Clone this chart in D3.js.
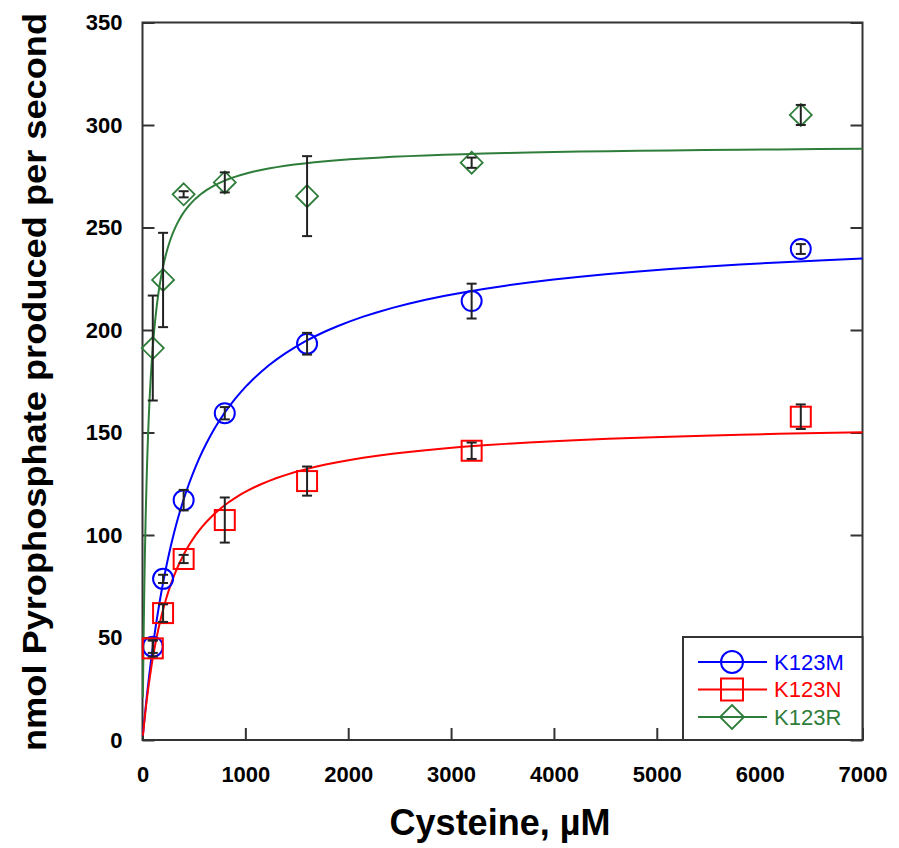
<!DOCTYPE html>
<html>
<head>
<meta charset="utf-8">
<script src="https://cdn.jsdelivr.net/npm/d3@7"></script>
<style>
  html, body { margin: 0; padding: 0; background: #fff; }
  svg { display: block; }
</style>
</head>
<body>
<svg id="chart" width="899" height="848"></svg>
<script>
// Substrate concentrations (µM)
const concentrations = [100, 200, 400, 800, 1600, 3200, 6400];

// Mean rates and error bars per enzyme variant
const k123mRate = [45.5, 78.6, 117, 159.4, 193.3, 214.1, 239.5];
const k123mErr  = [3, 2, 5, 3, 5.3, 8.5, 2.4];
const k123nRate = [44.7, 61.9, 88.3, 107.3, 126.3, 141.1, 157.7];
const k123nErr  = [4, 4.3, 2, 11, 7.1, 4, 6];
const k123rRate = [191.2, 224.4, 266.2, 272, 265.3, 281.6, 304.9];
const k123rErr  = [25.6, 23, 1.5, 4.9, 19.5, 2.5, 4.9];

// Michaelis–Menten fit parameters (Vmax, Km)
const seriesNames = ["K123M", "K123N", "K123R"];
const fitVmax = [250, 156.4, 290.5];
const fitKm   = [452, 292, 51.6];
const seriesColors = ["#0000ff", "#ff0000", "#2f7d3a"];
const seriesShapes = ["circle", "square", "diamond"];

const xTicks = [0, 1000, 2000, 3000, 4000, 5000, 6000, 7000];
const yTicks = [0, 50, 100, 150, 200, 250, 300, 350];

const rates = [k123mRate, k123nRate, k123rRate];
const errs = [k123mErr, k123nErr, k123rErr];

(function draw() {
  const svg = d3.select("#chart");
  const pL = 142.5, pR = 862.5, pT = 22.5, pB = 740;
  const x = d3.scaleLinear().domain([0, 7000]).range([pL, pR]);
  const y = d3.scaleLinear().domain([0, 350]).range([pB, pT]);

  const axisColor = "#333";
  const fontFamily = "Arial, 'Liberation Sans', sans-serif";

  // Axes: ticks point inward
  const gL = svg.append("g").attr("transform", `translate(${pL},0)`)
    .call(d3.axisLeft(y).tickValues(yTicks).tickSizeInner(-12).tickSizeOuter(0).tickPadding(20).tickFormat(d3.format("d")));
  const gR = svg.append("g").attr("transform", `translate(${pR},0)`)
    .call(d3.axisRight(y).tickValues(yTicks).tickSizeInner(-12).tickSizeOuter(0).tickFormat(""));
  const gB = svg.append("g").attr("transform", `translate(0,${pB})`)
    .call(d3.axisBottom(x).tickValues(xTicks).tickSizeInner(-12).tickSizeOuter(0).tickPadding(26).tickFormat(d3.format("d")));

  [gL, gR, gB].forEach(g => {
    g.select(".domain").remove();
    g.selectAll(".tick line").attr("stroke", axisColor).attr("stroke-width", 2);
    g.selectAll(".tick text")
      .attr("fill", "#000")
      .style("font-family", fontFamily)
      .style("font-weight", "bold")
      .style("font-size", "22px");
  });

  // Frame
  svg.append("rect")
    .attr("x", pL).attr("y", pT)
    .attr("width", pR - pL).attr("height", pB - pT)
    .attr("fill", "none").attr("stroke", axisColor).attr("stroke-width", 2);

  // Fitted curves
  const sampleS = d3.range(0, 121).map(i => 4 * Math.pow(7000 / 4, i / 120));
  const line = d3.line().x(d => x(d[0])).y(d => y(d[1]));
  seriesNames.forEach((name, i) => {
    const pts = sampleS.map(s => [s, fitVmax[i] * s / (fitKm[i] + s)]);
    svg.append("path")
      .attr("d", line(pts))
      .attr("fill", "none")
      .attr("stroke", seriesColors[i])
      .attr("stroke-width", 2);
  });

  // Marker shapes
  function marker(g, shape, cx, cy, color, size) {
    const r = size || 10;
    if (shape === "circle") {
      g.append("circle").attr("cx", cx).attr("cy", cy).attr("r", r)
        .attr("fill", "none").attr("stroke", color).attr("stroke-width", 2);
    } else if (shape === "square") {
      g.append("rect").attr("x", cx - r).attr("y", cy - r).attr("width", 2 * r).attr("height", 2 * r)
        .attr("fill", "none").attr("stroke", color).attr("stroke-width", 2);
    } else {
      const d = r + 1;
      g.append("path").attr("d", `M${cx},${cy - d}L${cx + d},${cy}L${cx},${cy + d}L${cx - d},${cy}Z`)
        .attr("fill", "none").attr("stroke", color).attr("stroke-width", 1.8);
    }
  }

  // Data points with error bars
  seriesNames.forEach((name, i) => {
    const g = svg.append("g");
    concentrations.forEach((c, j) => {
      marker(g, seriesShapes[i], x(c), y(rates[i][j]), seriesColors[i]);
    });
    concentrations.forEach((c, j) => {
      const cx = x(c), y0 = y(rates[i][j] - errs[i][j]), y1 = y(rates[i][j] + errs[i][j]);
      g.append("line").attr("x1", cx).attr("x2", cx).attr("y1", y0).attr("y2", y1)
        .attr("stroke", "#222").attr("stroke-width", 2);
      [y0, y1].forEach(yy => g.append("line")
        .attr("x1", cx - 5).attr("x2", cx + 5).attr("y1", yy).attr("y2", yy)
        .attr("stroke", "#222").attr("stroke-width", 2));
    });
  });

  // Legend
  const lg = svg.append("g");
  lg.append("rect").attr("x", 683).attr("y", 637).attr("width", pR - 683).attr("height", pB - 637)
    .attr("fill", "#fff").attr("stroke", axisColor).attr("stroke-width", 2);
  seriesNames.forEach((name, i) => {
    const ly = 662 + i * 27.5;
    lg.append("line").attr("x1", 698).attr("x2", 767).attr("y1", ly).attr("y2", ly)
      .attr("stroke", seriesColors[i]).attr("stroke-width", 2);
    marker(lg, seriesShapes[i], 732, ly, seriesColors[i], 11);
    lg.append("text").attr("x", 774).attr("y", ly).attr("dy", "0.36em")
      .attr("fill", seriesColors[i])
      .style("font-family", fontFamily).style("font-size", "22px")
      .text(name);
  });

  // Axis titles
  svg.append("text")
    .attr("x", 500).attr("y", 835)
    .attr("text-anchor", "middle")
    .style("font-family", fontFamily).style("font-weight", "bold").style("font-size", "36px")
    .text("Cysteine, \u00B5M");
  svg.append("text")
    .attr("transform", `translate(46,382) rotate(-90)`)
    .attr("text-anchor", "middle")
    .attr("textLength", 738).attr("lengthAdjust", "spacingAndGlyphs")
    .style("font-family", fontFamily).style("font-weight", "bold").style("font-size", "33px")
    .text("nmol Pyrophosphate produced per second");
})();
</script>
</body>
</html>
